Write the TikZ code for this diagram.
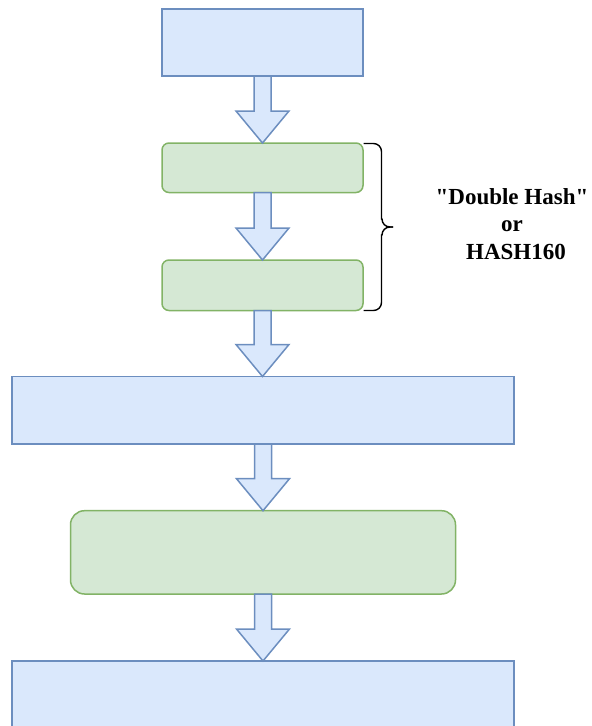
\documentclass[tikz,border=0pt]{standalone}
\usepackage{fontspec}
\setmainfont{Liberation Serif}[Ligatures=TeXOff]
\usetikzlibrary{calc}
\definecolor{bluefill}{HTML}{DAE8FC}
\definecolor{bluedraw}{HTML}{6C8EBF}
\definecolor{greenfill}{HTML}{D5E8D4}
\definecolor{greendraw}{HTML}{82B366}
\tikzset{
  bluebox/.style={draw=bluedraw, fill=bluefill, line width=1.5pt, inner sep=0pt, outer sep=0pt},
  greenbox/.style={draw=greendraw, fill=greenfill, line width=1.5pt, inner sep=0pt, outer sep=0pt, rounded corners=#1},
  greenbox/.default=7pt,
  fatbody/.style={draw=bluedraw, fill=bluefill, line width=1.5pt, line join=miter},
  bracestyle/.style={draw=black, line width=1.4pt},
  hashlabel/.style={font=\fontsize{23}{27.5}\selectfont\bfseries, align=center, inner sep=0pt}
}
% hollow block arrow from the bottom of one node to the top of another
\newcommand{\fatarrow}[2]{%
  \path let \p1=(#1.south), \p2=(#2.north) in
    [fatbody] (\x1-8.5pt,\y1) -- (\x1+8.5pt,\y1) -- (\x1+8.5pt,\y2+32pt)
      -- (\x1+26.5pt,\y2+32pt) -- (\x1,\y2) -- (\x1-26.5pt,\y2+32pt)
      -- (\x1-8.5pt,\y2+32pt) -- cycle;}
\begin{document}
\begin{tikzpicture}[x=1pt,y=-1pt]
  \useasboundingbox (0,0) rectangle (592,726);
  \clip (0,0) rectangle (592,726);

  \node[bluebox, minimum width=201pt, minimum height=67pt] (b1) at (262.5,42.5) {};
  \node[greenbox, minimum width=201pt, minimum height=49.5pt] (b2) at (262.5,167.75) {};
  \node[greenbox, minimum width=201pt, minimum height=50.5pt] (b3) at (262.5,285.25) {};
  \node[bluebox, minimum width=502pt, minimum height=67.5pt] (b4) at (263,410.25) {};
  \node[greenbox=14pt, minimum width=385pt, minimum height=83.3pt] (b5) at (263,552.35) {};
  \node[bluebox, minimum width=502pt, minimum height=67pt] (b6) at (263,694.5) {};

  \fatarrow{b1}{b2}
  \fatarrow{b2}{b3}
  \fatarrow{b3}{b4}
  \fatarrow{b4}{b5}
  \fatarrow{b5}{b6}

  % curly brace grouping the two hashing steps (y grows downwards here)
  \coordinate (bt) at ($(b2.north east)+(0.5,0.5)$);
  \coordinate (bb) at ($(b3.south east)+(0.5,0)$);
  \coordinate (btip) at (393,227);
  \draw[bracestyle] (bt) -- ++(10,0) arc[start angle=-90, end angle=0, radius=8]
    |- ($(btip)+(-11,-8)$) arc[start angle=180, end angle=90, radius=8] -- (btip);
  \draw[bracestyle] (bb) -- ++(10,0) arc[start angle=90, end angle=0, radius=8]
    |- ($(btip)+(-11,8)$) arc[start angle=180, end angle=270, radius=8] -- (btip);

  \node[hashlabel] (hash) at (512,224) {"Double Hash"\\or\\\hspace*{8pt}HASH160};
\end{tikzpicture}
\end{document}
